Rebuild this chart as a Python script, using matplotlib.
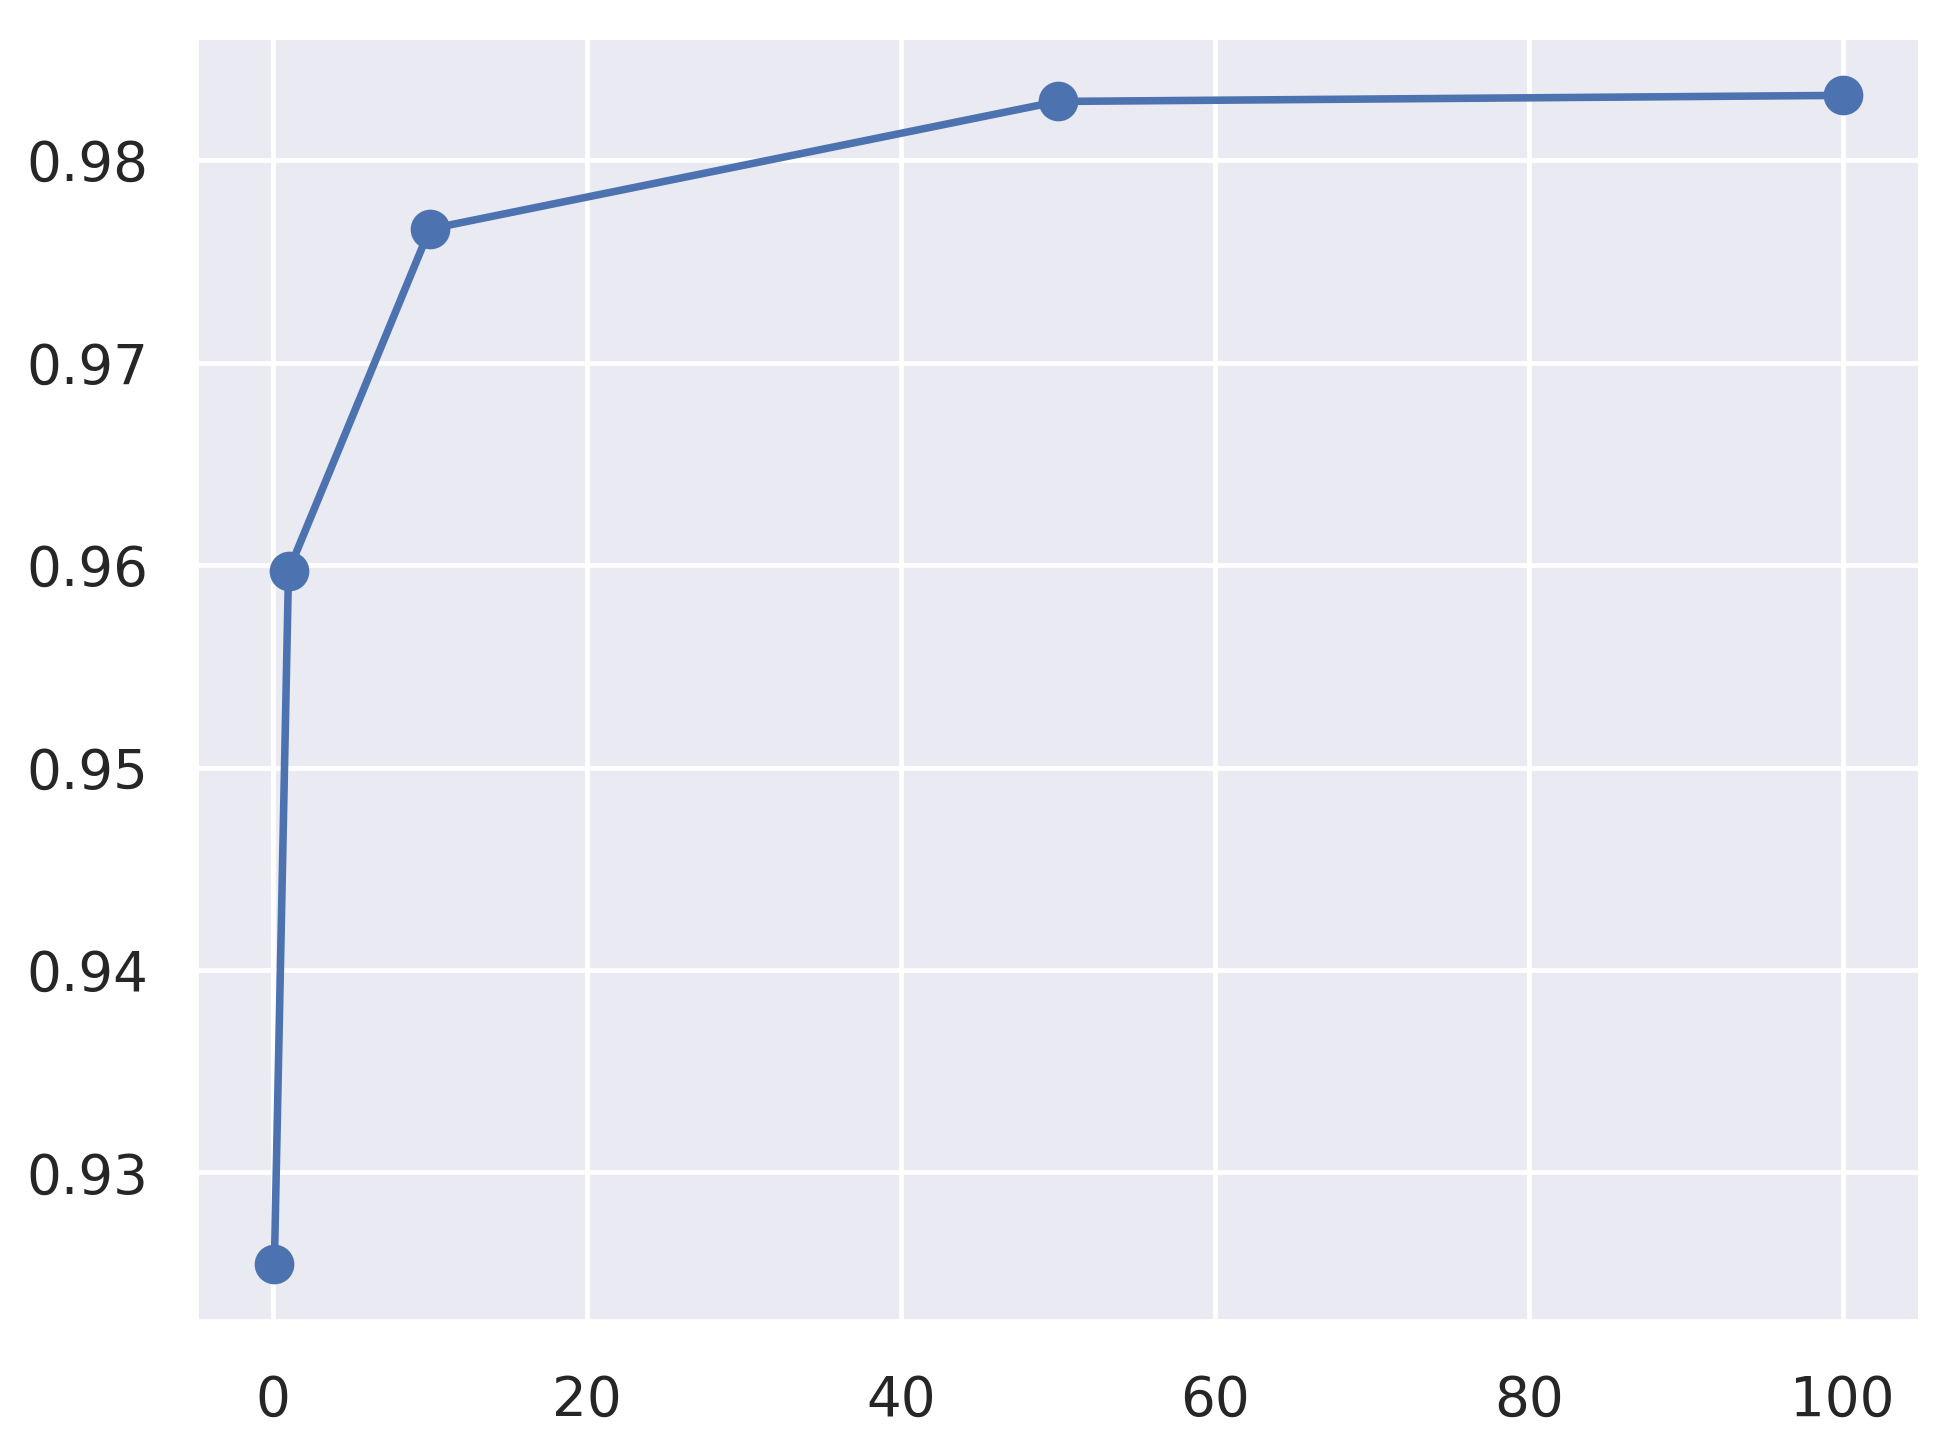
import matplotlib
matplotlib.use("Agg")
import matplotlib.pyplot as plt
import seaborn as sns

# 数据
x = [0.1, 1, 10, 50, 100]
acc = [0.9255, 0.9597, 0.9766, 0.9829, 0.9832]

sns.set_theme(style="darkgrid")
plt.rcParams['font.family'] = ['DejaVu Sans']

dpi = 340
fig, ax = plt.subplots(figsize=(1946 / dpi, 1444 / dpi), dpi=dpi)
fig.subplots_adjust(left=0.1007, right=0.9872, top=0.9744, bottom=0.0845)

ax.plot(x, acc, marker="o", markersize=7.4, linewidth=1.6, color="#4c72b0")
ax.set_yticks([0.93, 0.94, 0.95, 0.96, 0.97, 0.98])
ax.tick_params(axis="both", labelsize=11.6)
ax.tick_params(axis="x", pad=5)
ax.tick_params(axis="y", pad=4)

fig.savefig("out.png", dpi=dpi)
